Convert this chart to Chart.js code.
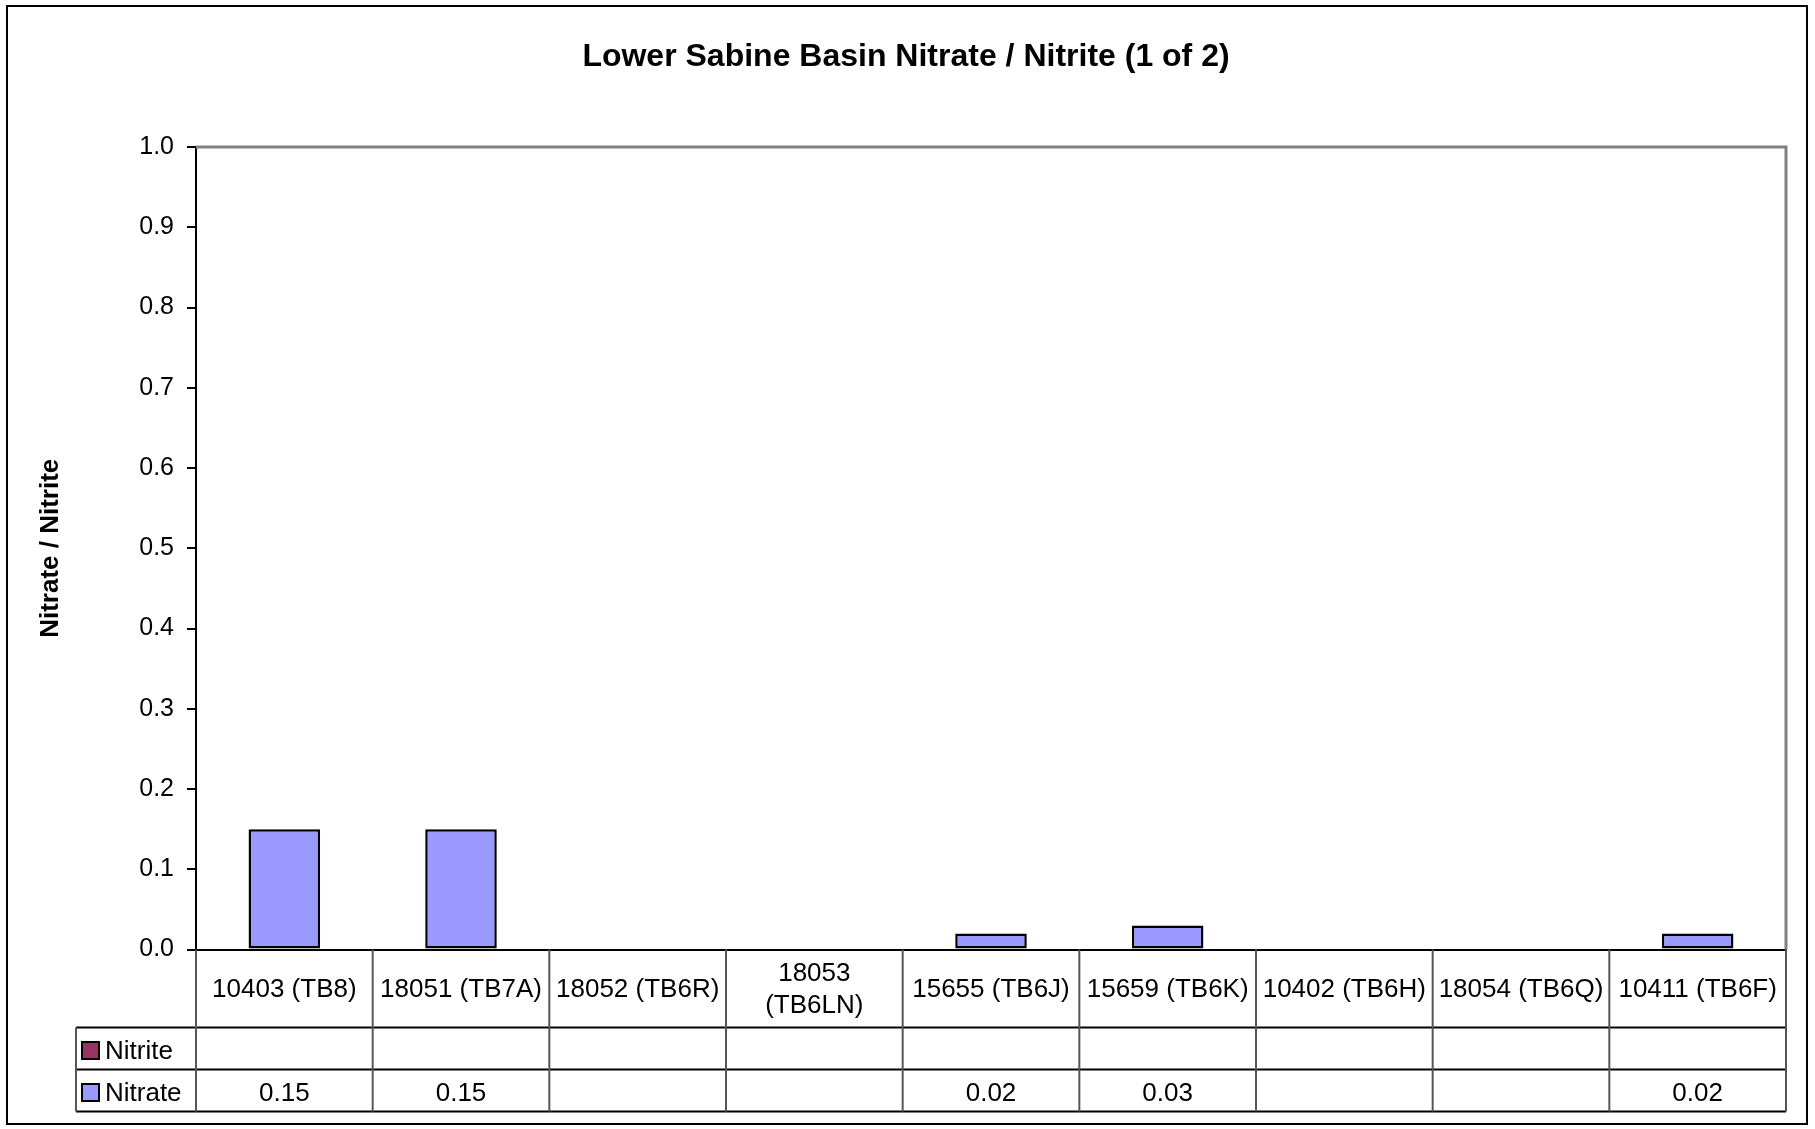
<!DOCTYPE html>
<html>
<head>
<meta charset="utf-8">
<title>Lower Sabine Basin Nitrate / Nitrite (1 of 2)</title>
<script src="https://cdn.jsdelivr.net/npm/chart.js@4.4.1/dist/chart.umd.min.js"></script>
<style>
    html, body { margin: 0; padding: 0; background: #fff; }
    canvas { display: block; }
</style>
</head>
<body>
<canvas id="nitrateChart" width="1815" height="1129"></canvas>
<script>
const stations = ['10403 (TB8)', '18051 (TB7A)', '18052 (TB6R)', ['18053', '(TB6LN)'], '15655 (TB6J)', '15659 (TB6K)', '10402 (TB6H)', '18054 (TB6Q)', '10411 (TB6F)'];
const nitrateValues = [0.15, 0.15, null, null, 0.02, 0.03, null, null, 0.02];
const nitriteValues = [null, null, null, null, null, null, null, null, null];
const yMin = 0;
const yMax = 1;
const yStep = 0.1;

const FONT = '"Liberation Sans", Arial, Helvetica, sans-serif';

// white page + outer chart border
const pageFrame = {
    id: 'pageFrame',
    beforeDraw: (chart) => {
        const ctx = chart.ctx;
        ctx.save();
        ctx.fillStyle = '#fff';
        ctx.fillRect(0, 0, chart.width, chart.height);
        ctx.restore();
    },
    afterDraw: (chart) => {
        const ctx = chart.ctx;
        ctx.save();
        ctx.strokeStyle = '#000';
        ctx.lineWidth = 2;
        ctx.strokeRect(7, 6, 1800, 1118);
        ctx.restore();
    }
};

// grey top / right edges of the plot area
const plotFrame = {
    id: 'plotFrame',
    beforeDatasetsDraw: (chart) => {
        const { ctx, chartArea } = chart;
        ctx.save();
        ctx.strokeStyle = '#808080';
        ctx.lineWidth = 3;
        ctx.beginPath();
        ctx.moveTo(chartArea.left, chartArea.top);
        ctx.lineTo(chartArea.right, chartArea.top);
        ctx.lineTo(chartArea.right, chartArea.bottom);
        ctx.stroke();
        ctx.restore();
    }
};

// data table under the x axis (Nitrite row on top, Nitrate below)
const dataTable = {
    id: 'dataTable',
    afterDraw: (chart) => {
        const { ctx, chartArea } = chart;
        const xScale = chart.scales.x;
        const colWidth = (chartArea.right - chartArea.left) / stations.length;
        const headerBottom = chartArea.bottom + 78;
        const rowHeight = 42;
        const tableLeft = 76;
        const rows = chart.data.datasets.slice().reverse();
        const tableBottom = headerBottom + rows.length * rowHeight;

        ctx.save();
        // horizontal lines
        ctx.strokeStyle = '#000';
        ctx.lineWidth = 2;
        for (let r = 0; r <= rows.length; r++) {
            const y = headerBottom + r * rowHeight;
            ctx.beginPath();
            ctx.moveTo(tableLeft, y);
            ctx.lineTo(chartArea.right, y);
            ctx.stroke();
        }
        // vertical lines
        ctx.strokeStyle = '#555';
        for (let i = 0; i <= stations.length; i++) {
            const x = i < stations.length ? xScale.getPixelForValue(i) - colWidth / 2 : chartArea.right;
            ctx.beginPath();
            ctx.moveTo(x, chartArea.bottom);
            ctx.lineTo(x, tableBottom);
            ctx.stroke();
        }
        ctx.beginPath();
        ctx.moveTo(tableLeft, headerBottom);
        ctx.lineTo(tableLeft, tableBottom);
        ctx.stroke();

        // row legends and values
        ctx.font = '26px ' + FONT;
        ctx.textBaseline = 'middle';
        rows.forEach((ds, r) => {
            const rowMid = headerBottom + r * rowHeight + rowHeight / 2;
            const yc = rowMid + 3.5;
            ctx.fillStyle = ds.backgroundColor;
            ctx.fillRect(tableLeft + 6, rowMid + 2 - 8.5, 17, 17);
            ctx.strokeStyle = '#000';
            ctx.lineWidth = 2;
            ctx.strokeRect(tableLeft + 6, rowMid + 2 - 8.5, 17, 17);
            ctx.fillStyle = '#000';
            ctx.textAlign = 'left';
            ctx.fillText(ds.label, tableLeft + 29, yc);
            ctx.textAlign = 'center';
            ds.data.forEach((v, i) => {
                if (v !== null && v !== undefined) {
                    ctx.fillText(String(v), xScale.getPixelForValue(i), yc);
                }
            });
        });
        ctx.restore();
    }
};

const ctx = document.getElementById('nitrateChart');
new Chart(ctx, {
    type: 'bar',
    data: {
        labels: stations,
        datasets: [{
            label: 'Nitrate',
            data: nitrateValues,
            backgroundColor: '#9999FF',
            borderColor: '#000',
            borderWidth: 2.5,
            borderSkipped: false,
        }, {
            label: 'Nitrite',
            data: nitriteValues,
            backgroundColor: '#993366',
            borderColor: '#000',
            borderWidth: 2.5,
            borderSkipped: false,
        }]
    },
    options: {
        responsive: false,
        animation: false,
        events: [],
        categoryPercentage: 1,
        barPercentage: 0.405,
        layout: {
            padding: { left: 26, right: 29, top: 0, bottom: 0 }
        },
        plugins: {
            legend: { display: false },
            tooltip: { enabled: false },
            title: {
                display: true,
                text: 'Lower Sabine Basin Nitrate / Nitrite (1 of 2)',
                color: '#000',
                font: { family: FONT, size: 32, weight: 'bold', lineHeight: 1.2 },
                padding: { top: 37.5, bottom: 71.1 }
            }
        },
        scales: {
            x: {
                stacked: true,
                grid: { display: false },
                border: { display: true, color: '#000', width: 2 },
                ticks: {
                    color: '#000',
                    font: { family: FONT, size: 26, lineHeight: 1.25 },
                    padding: 16.25,
                    crossAlign: 'center',
                    maxRotation: 0,
                    minRotation: 0,
                    autoSkip: false
                },
                afterFit: (scale) => { scale.height = 179.5; }
            },
            y: {
                stacked: true,
                min: yMin,
                max: yMax,
                grid: {
                    drawOnChartArea: false,
                    drawTicks: true,
                    tickLength: 9,
                    color: '#000',
                    lineWidth: 2
                },
                border: { display: true, color: '#000', width: 2 },
                ticks: {
                    stepSize: yStep,
                    color: '#000',
                    padding: 13,
                    font: { family: FONT, size: 25 },
                    callback: (value) => Number(value).toFixed(1)
                },
                title: {
                    display: true,
                    text: 'Nitrate / Nitrite',
                    color: '#000',
                    font: { family: FONT, size: 26, weight: 'bold', lineHeight: 1.2 },
                    padding: { top: 9.4, bottom: 0 }
                },
                afterFit: (scale) => { scale.width = 170; }
            }
        }
    },
    plugins: [pageFrame, plotFrame, dataTable]
});
</script>
</body>
</html>
